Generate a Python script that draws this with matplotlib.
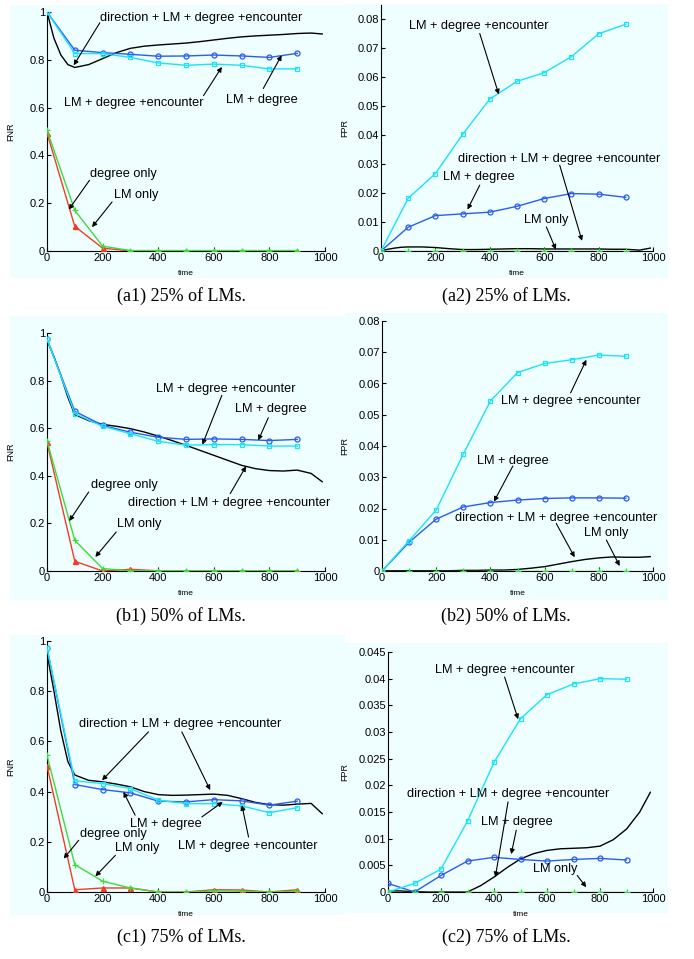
import matplotlib
matplotlib.use('Agg')
import matplotlib.pyplot as plt
from matplotlib.patches import Rectangle
from matplotlib.ticker import FormatStrFormatter

plt.rcParams['font.family'] = ['Liberation Sans', 'DejaVu Sans']

W, H = 694, 959

# shared sample times
t_pts = [0, 100, 200, 300, 400, 500, 600, 700, 800, 900]
dir_t = [0, 25, 50, 75, 100, 150, 200, 250, 300, 350, 400, 450, 500,
         550, 600, 650, 700, 750, 800, 850, 900, 950, 990]

# (a1) FNR 25%
a1_lm_deg = [1.0, 0.84, 0.83, 0.823, 0.815, 0.816, 0.82, 0.816, 0.81, 0.827]
a1_lm_deg_enc = [1.0, 0.826, 0.826, 0.81, 0.787, 0.777, 0.782, 0.777, 0.762, 0.762]
a1_lm_only = [0.505, 0.17, 0.02, 0.002, 0.002, 0.002, 0.002, 0.002, 0.002, 0.002]
a1_deg_only = [0.494, 0.103, 0.012, 0, 0, 0, 0, 0, 0, 0]
a1_dir = [1.0, 0.89, 0.82, 0.78, 0.768, 0.78, 0.805, 0.83, 0.848, 0.857, 0.862,
          0.866, 0.87, 0.876, 0.883, 0.89, 0.896, 0.90, 0.903, 0.906, 0.91, 0.912, 0.908]

# (a2) FPR 25%
a2_lm_deg = [0, 0.0082, 0.0122, 0.0128, 0.0134, 0.0154, 0.0181, 0.0198, 0.0196, 0.0185]
a2_lm_deg_enc = [0, 0.0182, 0.0267, 0.0402, 0.0524, 0.0585, 0.0615, 0.067, 0.0749, 0.0782]
a2_lm_only = [0, 0, 0, 0, 0, 0, 0, 0, 0, 0]
a2_dir = [0, 0.0006, 0.001, 0.0013, 0.0014, 0.0014, 0.0012, 0.0008, 0.0005, 0.0005,
          0.0006, 0.0007, 0.0008, 0.0008, 0.0007, 0.0007, 0.0007, 0.0007, 0.0007,
          0.0006, 0.0006, 0.0003, 0.001]

# (b1) FNR 50%
b1_lm_deg = [0.975, 0.671, 0.612, 0.583, 0.562, 0.553, 0.555, 0.553, 0.548, 0.553]
b1_lm_deg_enc = [0.975, 0.661, 0.608, 0.577, 0.545, 0.529, 0.531, 0.531, 0.525, 0.525]
b1_lm_only = [0.547, 0.129, 0.01, 0.001, 0.001, 0.001, 0.001, 0.001, 0.001, 0.001]
b1_deg_only = [0.54, 0.041, 0.0, 0.007, 0.001, 0.001, 0.001, 0.001, 0.001, 0.001]
b1_dir = [0.97, 0.90, 0.82, 0.73, 0.657, 0.632, 0.616, 0.608, 0.598, 0.584, 0.567,
          0.548, 0.528, 0.507, 0.486, 0.465, 0.444, 0.43, 0.422, 0.42, 0.424, 0.41, 0.375]

# (b2) FPR 50%
b2_lm_deg = [0, 0.0092, 0.0166, 0.0205, 0.0219, 0.0227, 0.0232, 0.0234, 0.0234, 0.0233]
b2_lm_deg_enc = [0, 0.0097, 0.0195, 0.0374, 0.0544, 0.0635, 0.0664, 0.0676, 0.0691, 0.0687]
b2_lm_only = [0, 0, 0, 0, 0, 0, 0, 0, 0, 0]
b2_dir = [0, 0.0001, 0.0001, 0.0001, 0.0001, 0.0001, 0.0001, 0.0001, 0.0002, 0.0002,
          0.0003, 0.0003, 0.0005, 0.0009, 0.0014, 0.0022, 0.003, 0.0037, 0.0042,
          0.0045, 0.0044, 0.0044, 0.0046]

# (c1) FNR 75%
c1_lm_deg = [0.973, 0.428, 0.408, 0.395, 0.362, 0.359, 0.368, 0.363, 0.346, 0.362]
c1_lm_deg_enc = [0.973, 0.443, 0.432, 0.412, 0.366, 0.352, 0.352, 0.343, 0.316, 0.336]
c1_lm_only = [0.545, 0.109, 0.043, 0.016, 0.0, 0.0, 0.004, 0.003, 0.0, 0.003]
c1_deg_only = [0.503, 0.009, 0.016, 0.016, 0.0, 0.0, 0.009, 0.008, 0.0, 0.009]
c1_dir = [0.95, 0.80, 0.64, 0.52, 0.466, 0.445, 0.439, 0.43, 0.419, 0.40, 0.388,
          0.385, 0.386, 0.388, 0.39, 0.385, 0.372, 0.357, 0.348, 0.346, 0.35, 0.353, 0.312]

# (c2) FPR 75%
c2_lm_deg = [0.0016, 0.0, 0.0031, 0.0058, 0.0065, 0.0061, 0.0058, 0.0061, 0.0063, 0.006]
c2_lm_deg_enc = [0, 0.0016, 0.0043, 0.0133, 0.0243, 0.0325, 0.037, 0.039, 0.040, 0.0399]
c2_lm_only = [0, 0, 0, 0, 0, 0, 0, 0, 0, 0]
c2_dir = [0.0002, 0.0002, 0.0002, 0.0001, 0.0001, 0, 0, 0, 0, 0.0012, 0.0028, 0.0046,
          0.0062, 0.0072, 0.0078, 0.0081, 0.0082, 0.0083, 0.0086, 0.0098, 0.0118, 0.015, 0.0187]

TXT_DIR = 'direction + LM + degree +encounter'
TXT_ENC = 'LM + degree +encounter'
TXT_DEG = 'LM + degree'
TXT_DONLY = 'degree only'
TXT_LONLY = 'LM only'

# annotations: text, (x, y) of text left/centre, list of (tail, tip)
a1_notes = [
    (TXT_DIR, (192, 0.976), [((190, 0.955), (96, 0.777))]),
    (TXT_ENC, (60, 0.62), [((563, 0.65), (629, 0.77))]),
    (TXT_DEG, (644, 0.63), [((778, 0.68), (844, 0.819))]),
    (TXT_DONLY, (156, 0.324), [((153, 0.296), (78, 0.173))]),
    (TXT_LONLY, (240, 0.236), [((234, 0.205), (162, 0.10))]),
]
a2_notes = [
    (TXT_ENC, (104, 0.0777), [((363, 0.075), (433, 0.054))]),
    (TXT_DIR, (284, 0.0317), [((657, 0.0296), (739, 0.0035))]),
    (TXT_DEG, (229, 0.0256), [((363, 0.0227), (318, 0.0143))]),
    (TXT_LONLY, (526, 0.0106), [((608, 0.0083), (643, 0.0005))]),
]
b1_notes = [
    (TXT_ENC, (393, 0.763), [((629, 0.738), (559, 0.531))]),
    (TXT_DEG, (677, 0.679), [((796, 0.644), (760, 0.549))]),
    (TXT_DIR, (293, 0.286), [((659, 0.325), (716, 0.44))]),
    (TXT_DONLY, (158, 0.363), [((150, 0.332), (80, 0.21))]),
    (TXT_LONLY, (251, 0.199), [((249, 0.164), (174, 0.059))]),
]
b2_notes = [
    (TXT_ENC, (440, 0.0544), [((696, 0.057), (754, 0.0676))]),
    (TXT_DEG, (352, 0.0352), [((483, 0.0336), (413, 0.0222))]),
    (TXT_DIR, (270, 0.017), [((643, 0.0152), (711, 0.0044))]),
    (TXT_LONLY, (745, 0.0122), [((828, 0.0099), (877, 0.0016))]),
]
c1_notes = [
    (TXT_DIR, (116, 0.669), [((365, 0.638), (198, 0.445)), ((485, 0.638), (587, 0.406))]),
    (TXT_DEG, (297, 0.27), [((317, 0.306), (275, 0.399)), ((557, 0.299), (632, 0.359))]),
    (TXT_ENC, (473, 0.182), [((725, 0.219), (701, 0.346))]),
    (TXT_DONLY, (117, 0.233), [((114, 0.206), (60, 0.133))]),
    (TXT_LONLY, (246, 0.176), [((246, 0.146), (174, 0.0625))]),
]
c2_notes = [
    (TXT_ENC, (179, 0.0416), [((440, 0.0403), (491, 0.0324))]),
    (TXT_DIR, (73, 0.0183), [((453, 0.0169), (405, 0.0028))]),
    (TXT_DEG, (352, 0.0132), [((484, 0.0116), (465, 0.0071))]),
    (TXT_LONLY, (547, 0.0044), [((714, 0.0031), (748, 0.0009))]),
]

BLUE = '#2a5cf2'
CYAN = '#1ae4f6'
GREEN = '#3ddc3a'
RED = '#f23c28'
BG = '#effefe'


def px_rect(x0, x1, ybot, ytop):
    return [x0 / W, 1 - ybot / H, (x1 - x0) / W, (ybot - ytop) / H]


def draw_panel(fig, rect, ylim, yticks, ylabel, label_x, series, notes):
    ax = fig.add_axes(rect)
    ax.patch.set_visible(False)
    ax.plot(dir_t, series['dir'], color='k', lw=1.0, zorder=2)
    ax.plot(t_pts, series['deg'], color=BLUE, lw=1.0, marker='o', ms=3.6,
            mfc='none', mew=0.9, zorder=3)
    ax.plot(t_pts, series['enc'], color=CYAN, lw=1.0, marker='s', ms=3.2,
            mfc='none', mew=0.9, zorder=3)
    if 'donly' in series:
        ax.plot(t_pts, series['donly'], color=RED, lw=1.0, marker='^', ms=3.6,
                zorder=3)
    ax.plot(t_pts, series['lonly'], color=GREEN, lw=1.0, marker='+', ms=4,
            mew=0.9, zorder=4)
    for txt, (tx, ty), arrows in notes:
        ax.text(tx, ty, txt, fontsize=9.2, ha='left', va='center', zorder=5)
        for tail, tip in arrows:
            ax.annotate('', xy=tip, xytext=tail,
                        arrowprops=dict(arrowstyle='-|>', color='k', lw=0.8,
                                        mutation_scale=7, shrinkA=0, shrinkB=0),
                        zorder=5)
    ax.set_xlim(0, 1000)
    ax.set_ylim(*ylim)
    ax.set_xticks([0, 200, 400, 600, 800, 1000])
    ax.set_yticks(yticks)
    ax.yaxis.set_major_formatter(FormatStrFormatter('%g'))
    ax.spines['top'].set_visible(False)
    ax.spines['right'].set_visible(False)
    for s in ('left', 'bottom'):
        ax.spines[s].set_linewidth(0.8)
    ax.tick_params(direction='in', length=3, width=0.8, labelsize=8, pad=1.5)
    ax.set_xlabel('time', fontsize=6, labelpad=5)
    ax.set_ylabel(ylabel, fontsize=6.5)
    # place the y label at a fixed pixel column like the original
    x0 = rect[0] * W
    wpx = rect[2] * W
    ax.yaxis.set_label_coords((label_x - x0) / wpx, 0.5)
    return ax


fig = plt.figure(figsize=(W / 100, H / 100), dpi=100)

# light background blocks behind each panel
for (x0, y0, x1, y1) in [(10, 5, 345, 278), (345, 4, 668, 278),
                         (10, 316, 345, 600), (345, 313, 668, 600),
                         (10, 635, 345, 915), (345, 643, 668, 913)]:
    fig.add_artist(Rectangle((x0 / W, 1 - y1 / H), (x1 - x0) / W, (y1 - y0) / H,
                             transform=fig.transFigure, facecolor=BG,
                             edgecolor='none', zorder=0))

fnr_ticks = [0, 0.2, 0.4, 0.6, 0.8, 1]
fpr_ticks = [0, 0.01, 0.02, 0.03, 0.04, 0.05, 0.06, 0.07, 0.08]
fpr_ticks_c = [0, 0.005, 0.01, 0.015, 0.02, 0.025, 0.03, 0.035, 0.04, 0.045]

draw_panel(fig, px_rect(47, 325, 251, 12), (0, 1), fnr_ticks, 'FNR', 15,
           dict(dir=a1_dir, deg=a1_lm_deg, enc=a1_lm_deg_enc,
                donly=a1_deg_only, lonly=a1_lm_only), a1_notes)
draw_panel(fig, px_rect(381, 653, 251, 4.5), (0, 0.085), fpr_ticks, 'FPR', 349,
           dict(dir=a2_dir, deg=a2_lm_deg, enc=a2_lm_deg_enc,
                lonly=a2_lm_only), a2_notes)
draw_panel(fig, px_rect(47, 325, 571, 333), (0, 1), fnr_ticks, 'FNR', 15,
           dict(dir=b1_dir, deg=b1_lm_deg, enc=b1_lm_deg_enc,
                donly=b1_deg_only, lonly=b1_lm_only), b1_notes)
draw_panel(fig, px_rect(382, 653, 571, 321), (0, 0.08), fpr_ticks, 'FPR', 349,
           dict(dir=b2_dir, deg=b2_lm_deg, enc=b2_lm_deg_enc,
                lonly=b2_lm_only), b2_notes)
draw_panel(fig, px_rect(47, 325, 892, 641), (0, 1), fnr_ticks, 'FNR', 15,
           dict(dir=c1_dir, deg=c1_lm_deg, enc=c1_lm_deg_enc,
                donly=c1_deg_only, lonly=c1_lm_only), c1_notes)
draw_panel(fig, px_rect(388, 653, 892, 652), (0, 0.045), fpr_ticks_c, 'FPR', 349,
           dict(dir=c2_dir, deg=c2_lm_deg, enc=c2_lm_deg_enc,
                lonly=c2_lm_only), c2_notes)

captions = [('(a1) 25% of LMs.', 181, 296), ('(a2) 25% of LMs.', 506, 296),
            ('(b1) 50% of LMs.', 181, 616), ('(b2) 50% of LMs.', 506, 616),
            ('(c1) 75% of LMs.', 181, 937), ('(c2) 75% of LMs.', 506, 937)]
for txt, x, y in captions:
    fig.text(x / W, 1 - y / H, txt, family='Liberation Serif', fontsize=13,
             ha='center', va='center')

fig.savefig('out.png', dpi=100)
